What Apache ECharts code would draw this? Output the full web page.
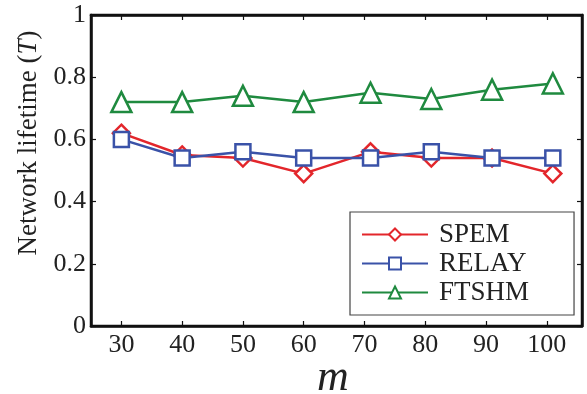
<!DOCTYPE html>
<html><head><meta charset="utf-8">
<script src="https://cdn.jsdelivr.net/npm/echarts@6/dist/echarts.min.js"></script>
<style>html,body{margin:0;padding:0;background:#fff}#c{width:587px;height:394px}</style>
</head><body><div id="c"></div>
<script>
const mValues = [30, 40, 50, 60, 71, 81, 91, 101];
const xTicks = [30, 40, 50, 60, 70, 80, 90, 100];
const yTicks = [0, 0.2, 0.4, 0.6, 0.8, 1];
const spem  = [0.62, 0.55, 0.54, 0.49, 0.56, 0.54, 0.54, 0.49];
const relay = [0.60, 0.54, 0.56, 0.54, 0.54, 0.56, 0.54, 0.54];
const ftshm = [0.72, 0.72, 0.74, 0.72, 0.75, 0.73, 0.76, 0.78];
const seriesNames = ['SPEM', 'RELAY', 'FTSHM'];

const font = '"Liberation Serif", "DejaVu Serif", serif';
const chart = echarts.init(document.getElementById('c'));
const mk = (name, vals, color, symbol, size) => ({
  name, type: 'line', data: mValues.map((x, i) => [x, vals[i]]),
  symbol, symbolSize: size, showAllSymbol: true,
  lineStyle: {color, width: 2.5},
  itemStyle: {color: '#fff', borderColor: color, borderWidth: 2.5},
  z: name === 'RELAY' ? 3 : 2
});
const tickStyle = {color: '#111', width: 1.2};
chart.setOption({
  animation: false,
  grid: {left: 91, top: 15, right: 5, bottom: 68, show: true, borderColor: '#111', borderWidth: 2.5, backgroundColor: 'transparent'},
  xAxis: [
    {type: 'value', min: 25, max: 105.8, position: 'bottom',
      axisLine: {show: true, onZero: false, lineStyle: {color: '#111', width: 2.5}},
      axisTick: {show: true, inside: true, length: 5, customValues: xTicks, lineStyle: tickStyle},
      splitLine: {show: false},
      axisLabel: {customValues: xTicks, margin: 6, fontFamily: font, fontSize: 26, color: '#222'}},
    {type: 'value', min: 25, max: 105.8, position: 'top',
      axisLine: {show: true, onZero: false, lineStyle: {color: '#111', width: 2.5}},
      axisTick: {show: true, inside: true, length: 5, customValues: xTicks, lineStyle: tickStyle},
      splitLine: {show: false},
      axisLabel: {show: false, customValues: xTicks}}
  ],
  yAxis: [
    {type: 'value', min: 0, max: 1, position: 'left',
      axisLine: {show: true, onZero: false, lineStyle: {color: '#111', width: 2.5}},
      axisTick: {show: true, inside: true, length: 5, customValues: yTicks, lineStyle: tickStyle},
      splitLine: {show: false},
      axisLabel: {customValues: yTicks, margin: 5, fontFamily: font, fontSize: 26, color: '#222',
        formatter: v => String(+v.toFixed(1))}},
    {type: 'value', min: 0, max: 1, position: 'right',
      axisLine: {show: true, onZero: false, lineStyle: {color: '#111', width: 2.5}},
      axisTick: {show: true, inside: true, length: 5, customValues: yTicks, lineStyle: tickStyle},
      splitLine: {show: false},
      axisLabel: {show: false, customValues: yTicks}}
  ],
  legend: {
    data: seriesNames, orient: 'vertical', left: 350, top: 212,
    padding: [9, 45, 9, 11], itemGap: 2, itemWidth: 66, itemHeight: 15,
    borderColor: '#444', borderWidth: 1.2, backgroundColor: '#fff',
    textStyle: {fontFamily: font, fontSize: 27, color: '#222', padding: [0, 0, 0, 6]}
  },
  graphic: [
    {type: 'text', x: 317, y: 378,
      style: {text: 'm', font: 'italic 44px ' + font, fill: '#222', verticalAlign: 'middle'}},
    {type: 'text', x: 29, y: 143, rotation: Math.PI / 2, originX: 0, originY: 0,
      style: {text: '{n|Network lifetime (}{i|T}{n|)}', align: 'center', verticalAlign: 'middle',
        rich: {n: {font: '27px ' + font, fill: '#222'}, i: {font: 'italic 27px ' + font, fill: '#222'}}}}
  ],
  series: [
    mk('SPEM', spem, '#e3262b', 'diamond', 17),
    mk('RELAY', relay, '#3a52a8', 'rect', 15),
    mk('FTSHM', ftshm, '#1f8a3f', 'triangle', 20)
  ]
});
</script></body></html>
